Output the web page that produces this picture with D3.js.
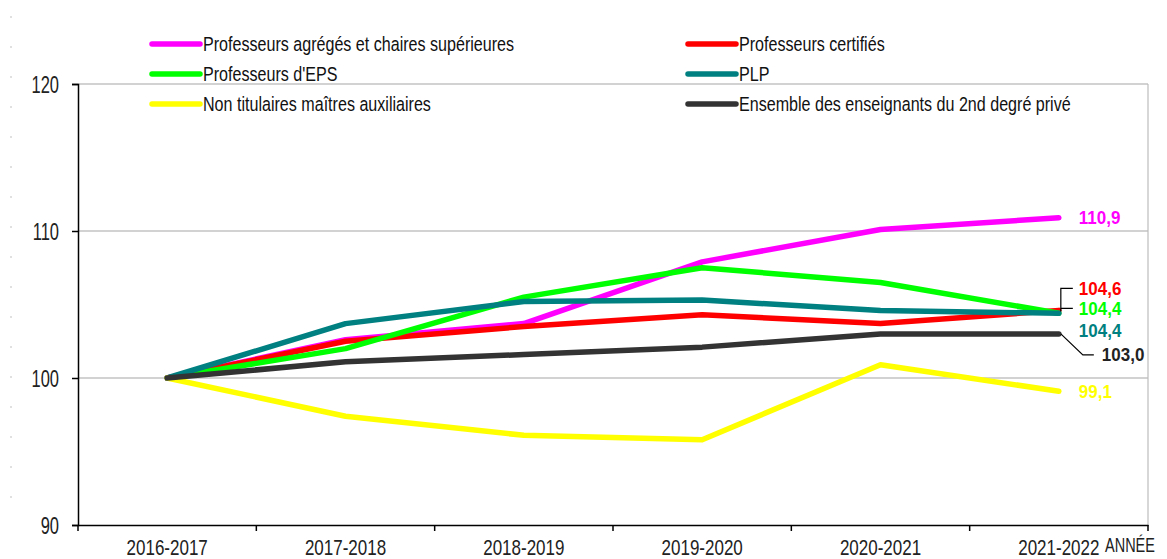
<!DOCTYPE html>
<html><head><meta charset="utf-8">
<script src="https://cdn.jsdelivr.net/npm/d3@7/dist/d3.min.js"></script>
<style>
html,body{margin:0;padding:0;background:#fff;}
svg{display:block;}
text{font-family:"Liberation Sans",Arial,sans-serif;}
</style></head>
<body>
<svg id="c" width="1167" height="559"></svg>
<script>
const categories = ["2016-2017","2017-2018","2018-2019","2019-2020","2020-2021","2021-2022"];
const seriesNames = [
  "Professeurs agrégés et chaires supérieures",
  "Professeurs certifiés",
  "Professeurs d'EPS",
  "PLP",
  "Non titulaires maîtres auxiliaires",
  "Ensemble des enseignants du 2nd degré privé"
];
const agreges   = [100, 102.6, 103.7, 107.9, 110.1, 110.9];
const certifies = [100, 102.5, 103.5, 104.3, 103.7, 104.6];
const eps       = [100, 102.0, 105.5, 107.5, 106.5, 104.4];
const plp       = [100, 103.7, 105.2, 105.3, 104.6, 104.4];
const nonTit    = [100, 97.4, 96.1, 95.8, 100.9, 99.1];
const ensemble  = [100, 101.1, 101.6, 102.1, 103.0, 103.0];
const endLabels = ["110,9","104,6","104,4","104,4","99,1","103,0"];
const yTicks = [90, 100, 110, 120];
const gridValues = [100, 110, 120];

const seriesValues = [agreges, certifies, eps, plp, nonTit, ensemble];
const colors = ["#ff00ff","#ff0000","#00ff00","#008080","#ffff00","#333333"];
const labelDy = [0, -22, -5, 17, 0, 21];
const labelDx = [20, 20, 20, 20, 20, 43];

const svg = d3.select("#c");
const L = 78, R = 1148, T = 84, B = 525;
const x = d3.scaleBand().domain(categories).range([L, R]).padding(0);
const xc = c => x(c) + x.bandwidth()/2;
const y = d3.scaleLinear().domain([90, 120]).range([B, T]);

function txt(g, px, py, s, o) {
  o = o || {};
  const t = g.append("text")
    .attr("transform", `translate(${px},${py}) scale(1,${o.k||1.3})`)
    .attr("font-size", o.size || 15)
    .attr("fill", o.fill || "#000")
    .attr("text-anchor", o.anchor || "start")
    .attr("dominant-baseline", "central")
    .text(s);
  if (o.bold) t.attr("font-weight", "bold");
  return t;
}

// faint dots at left
const dotG = svg.append("g");
d3.range(17).forEach(i => {
  dotG.append("rect").attr("x", 10).attr("y", 16 + i*30).attr("width", 2).attr("height", 2).attr("fill", "#e0e0e0");
});

// grid
svg.append("g").selectAll("line").data(gridValues).join("line")
  .attr("x1", L).attr("x2", R).attr("y1", d => y(d)).attr("y2", d => y(d))
  .attr("stroke", "#a6a6a6").attr("stroke-width", 1.2);
// right border
svg.append("line").attr("x1", R).attr("x2", R).attr("y1", y(120)).attr("y2", y(90))
  .attr("stroke", "#bdbdbd").attr("stroke-width", 1.2);

// y axis
const yAx = svg.append("g").attr("transform", `translate(${L},0)`)
  .call(d3.axisLeft(y).tickValues(yTicks).tickSize(6).tickPadding(13).tickFormat(d3.format("d")));
yAx.select(".domain").attr("stroke", "#000").attr("stroke-width", 1.5);
yAx.selectAll(".tick line").attr("stroke", "#000").attr("stroke-width", 1.5);
yAx.selectAll(".tick text").attr("font-size", 16.5).attr("fill", "#222")
  .attr("font-family", '"Liberation Sans",Arial,sans-serif')
  .attr("dy", null).attr("dominant-baseline", "central")
  .attr("transform", "scale(1,1.5)").attr("y", 0);

// x axis
const xAx = svg.append("g").attr("transform", `translate(0,${B})`)
  .call(d3.axisBottom(x).tickSize(0).tickPadding(0));
xAx.select(".domain").attr("stroke", "#000").attr("stroke-width", 1.5);
xAx.selectAll(".tick text").attr("font-size", 17).attr("fill", "#222")
  .attr("font-family", '"Liberation Sans",Arial,sans-serif')
  .attr("dy", null).attr("y", 0).attr("dominant-baseline", "central")
  .attr("transform", "translate(0,22) scale(1,1.3)");
// boundary ticks
const bounds = categories.map(c => x(c)).concat([x(categories[categories.length-1]) + x.bandwidth()]);
svg.append("g").selectAll("line").data(bounds).join("line")
  .attr("x1", d => d).attr("x2", d => d).attr("y1", B).attr("y2", B + 6)
  .attr("stroke", "#000").attr("stroke-width", 1.5);
txt(svg, 1105, 545, "ANNÉE", {size: 14.5, k: 1.35, fill: "#222"});

// lines
const line = d3.line().x((d, i) => xc(categories[i])).y(d => y(d));
const lg = svg.append("g");
seriesValues.forEach((vals, s) => {
  lg.append("path").datum(vals).attr("d", line)
    .attr("fill", "none").attr("stroke", colors[s]).attr("stroke-width", 5.5)
    .attr("stroke-linejoin", "round").attr("stroke-linecap", "round");
});

// leaders
const lastX = xc(categories[5]);
const lead = svg.append("g").attr("fill", "none").attr("stroke", "#000").attr("stroke-width", 1.2);
const yR = y(certifies[5]) + labelDy[1], yG = y(eps[5]) + labelDy[2];
lead.append("path").attr("d", `M${lastX+14},${yR} H${lastX+2} V${y(certifies[5])+1} M${lastX+2},${yG} H${lastX+14}`);
const yE = y(ensemble[5]);
lead.append("path").attr("d", `M${lastX+2},${yE} L${lastX+24},${yE+labelDy[5]} H${lastX+35}`);

// end labels
seriesValues.forEach((vals, s) => {
  txt(svg, lastX + labelDx[s], y(vals[5]) + labelDy[s], endLabels[s],
      {size: 17, k: 1.12, bold: true, fill: s === 5 ? "#222" : colors[s]});
});

// legend
const legendPos = [[150,44],[686,44],[150,74],[686,74],[150,104],[686,104]];
const leg = svg.append("g");
seriesNames.forEach((n, s) => {
  const [lx, ly] = legendPos[s];
  leg.append("line").attr("x1", lx + 2).attr("x2", lx + 50).attr("y1", ly).attr("y2", ly)
    .attr("stroke", colors[s]).attr("stroke-width", 5.5).attr("stroke-linecap", "round");
  txt(leg, lx + 53, ly, n, {size: 16.1, k: 1.22, fill: "#111"});
});
</script>
</body></html>
